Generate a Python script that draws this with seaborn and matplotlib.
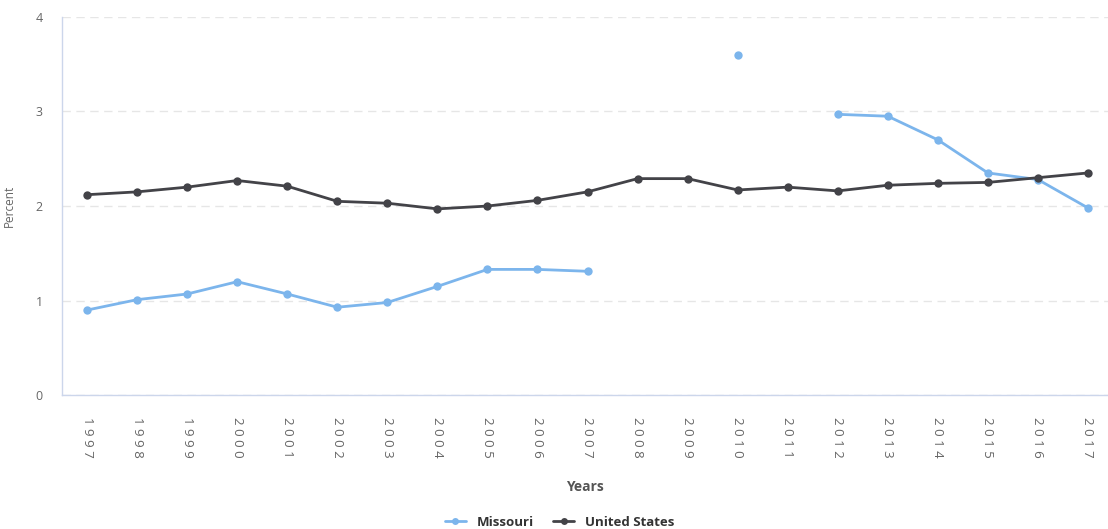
import numpy as np
import pandas as pd
import matplotlib
matplotlib.use("Agg")
import matplotlib.pyplot as plt
import seaborn as sns

years = list(range(1997, 2018))
missouri = [0.90, 1.01, 1.07, 1.20, 1.07, 0.93, 0.98, 1.15, 1.33, 1.33, 1.31,
            np.nan, np.nan, 3.60, np.nan, 2.97, 2.95, 2.70, 2.35, 2.28, 1.98]
united_states = [2.12, 2.15, 2.20, 2.27, 2.21, 2.05, 2.03, 1.97, 2.00, 2.06, 2.15,
                 2.29, 2.29, 2.17, 2.20, 2.16, 2.22, 2.24, 2.25, 2.30, 2.35]
series_names = ["Missouri", "United States"]
colors = ["#7cb5ec", "#434348"]

# long table, with a segment id so gaps in the data stay gaps
rows = []
for name, vals in zip(series_names, [missouri, united_states]):
    seg = 0
    for yr, v in zip(years, vals):
        if np.isnan(v):
            seg += 1
            continue
        rows.append({"year": yr, "value": v, "series": name, "seg": f"{name}-{seg}"})
df = pd.DataFrame(rows)

sns.set_style("white")
plt.rcParams['font.family'] = ['Open Sans', 'DejaVu Sans']

fig = plt.figure(figsize=(11.08, 5.29), dpi=100)
ax = fig.add_axes([0.056, 0.253, 0.944, 0.715])

sns.lineplot(data=df, x="year", y="value", hue="series", units="seg", estimator=None,
             palette=dict(zip(series_names, colors)), marker="o", markersize=6,
             markeredgewidth=0, linewidth=2, ax=ax, legend=False)

ax.set_xlim(1996.5, 2017.4)
ax.set_ylim(0, 4)
ax.set_yticks([0, 1, 2, 3, 4])
ax.set_xticks(years)
ax.set_xticklabels([" ".join(str(y)) for y in years], rotation=-90, fontsize=9.5, color="#666666")
ax.tick_params(axis="x", length=10, width=1, color="#ccd6eb", pad=6, direction="out")
ax.tick_params(axis="y", length=0, labelsize=9, labelcolor="#666666", pad=14)
ax.yaxis.grid(True, color="#e6e6e6", linestyle=(0, (6, 4)), linewidth=1)
ax.set_axisbelow(True)
for s in ["top", "right"]:
    ax.spines[s].set_visible(False)
for s in ["left", "bottom"]:
    ax.spines[s].set_color("#ccd6eb")
    ax.spines[s].set_linewidth(1)

ax.set_xlabel("Years", fontsize=10, fontweight="bold", color="#555555", labelpad=16)
ax.set_ylabel("Percent", fontsize=8.5, color="#666666", labelpad=14)

handles = [plt.Line2D([], [], color=c, marker="o", markersize=5, linewidth=2,
                      markeredgewidth=0) for c in colors]
fig.legend(handles, series_names, loc="lower center", ncol=2, frameon=False,
           bbox_to_anchor=(0.505, -0.022), handlelength=1.6, columnspacing=1.5,
           prop={"weight": "bold", "size": 9.5}, labelcolor="#333333")

fig.savefig("out.png", dpi=100)
